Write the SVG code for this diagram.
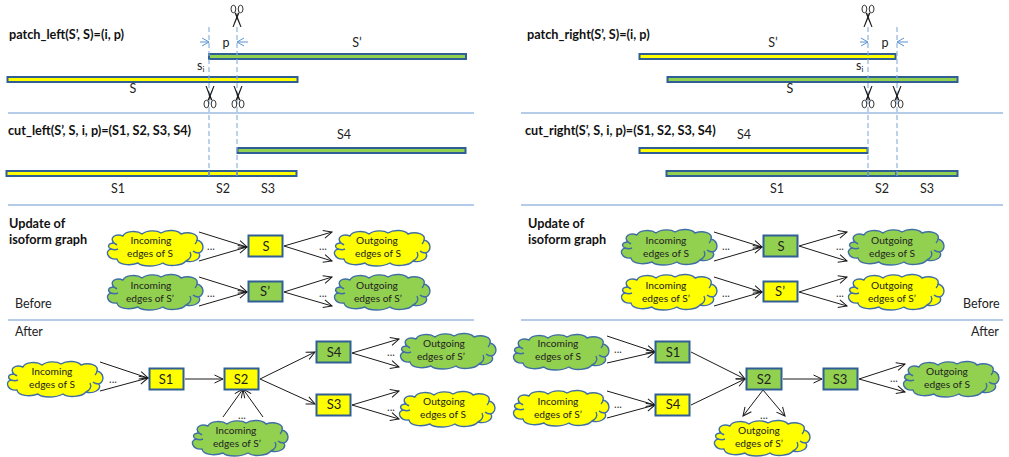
<svg xmlns="http://www.w3.org/2000/svg" xmlns:xlink="http://www.w3.org/1999/xlink" width="1009" height="457" viewBox="0 0 1009 457">
<style>
text{font-family:"Lato","Open Sans","Liberation Sans",sans-serif;fill:#222;font-size:12.500px}
.h{font-weight:700;font-size:12.700px;fill:#111}
.m{text-anchor:middle}
.c{font-size:10.200px;text-anchor:middle}
.n{font-size:13px;text-anchor:middle}
.d{font-size:11px;text-anchor:middle;fill:#333}
.y{fill:#ffff00}
.g{fill:#92d050}
.box{stroke:#2f5f94;stroke-width:2}
.bar{stroke:#2f5f94;stroke-width:2}
.cl{stroke:#3f6ea5;stroke-width:1.4;stroke-linejoin:round}
.sep{stroke:#9dbbe0;stroke-width:1.4}
.dash{stroke:#86aedd;stroke-width:1.1;stroke-dasharray:5 3;fill:none}
.e{stroke:#1a1a1a;stroke-width:1;fill:none;marker-end:url(#open)}
.dim{stroke:#5b93d3;stroke-width:1;fill:none;marker-end:url(#openBlue)}
.tick{stroke:#2f5f94;stroke-width:1.4}
</style>
<defs>
<marker id="open" markerUnits="userSpaceOnUse" markerWidth="12" markerHeight="12" refX="9.500" refY="5" orient="auto"><path d="M1,1 L9.500,5 L1,9" fill="none" stroke="#1a1a1a" stroke-width="1"/></marker>
<marker id="openBlue" markerUnits="userSpaceOnUse" markerWidth="12" markerHeight="12" refX="9" refY="5" orient="auto"><path d="M2,1 L9,5 L2,9" fill="none" stroke="#5b93d3" stroke-width="1"/></marker>
<g id="cloud">
<path d="M8,13 C3,8 9,3 17,6 C19,1 31,0 36,4 C41,0 51,0 55,3 C61,-1 72,0 75,4 C83,1 93,4 91,10 C98,12 99,20 93,23 C96,29 87,33 80,31 C76,36 62,37 57,33 C50,37 36,37 32,33 C24,36 12,35 11,29 C2,30 -2,21 5,19 C1,17 2,13 8,13 Z"/>
<path d="M80,31 C84,29 86,26 84,22 M93,23 C90,23 88,22 87,21 M5,19 C8,20 10,20 12,19 M8,13 C9,14 10,14 11,15 M91,10 C91,12 90,13 89,14" fill="none"/>
</g>
<g id="scissors" fill="#1a1a1a">
<path d="M-4.500,-11 L-3.400,-11 L2.400,3 L1,3.500 Z"/>
<path d="M4.500,-11 L3.400,-11 L-2.400,3 L-1,3.500 Z"/>
<ellipse cx="-3.600" cy="7" rx="2.400" ry="3.800" fill="none" stroke="#333" stroke-width="1"/>
<ellipse cx="3.600" cy="7" rx="2.400" ry="3.800" fill="none" stroke="#333" stroke-width="1"/>
</g>
</defs>
<rect width="1009" height="457" fill="#fff"/>

<!-- section rules -->
<g id="rules">
<line class="sep" x1="8" y1="113" x2="474" y2="113"/>
<line class="sep" x1="8" y1="205" x2="474" y2="205"/>
<line class="sep" x1="8" y1="320" x2="474" y2="320"/>
<line class="sep" x1="521" y1="113" x2="1003" y2="113"/>
<line class="sep" x1="521" y1="205" x2="1003" y2="205"/>
<line class="sep" x1="521" y1="320" x2="1003" y2="320"/>
</g>

<!-- left: sequence bars -->
<g id="bar-left-sprime"><rect class="bar g" x="209" y="54" width="257" height="5"/></g>
<g id="bar-left-s"><rect class="bar y" x="7.500" y="77" width="290" height="5"/></g>
<g id="bar-left-s4"><rect class="bar g" x="237.500" y="148" width="228" height="5"/></g>
<g id="bar-left-s123"><rect class="bar y" x="6.500" y="171" width="290" height="5"/>
<line class="tick" x1="209" y1="170" x2="209" y2="177"/><line class="tick" x1="237" y1="170" x2="237" y2="177"/></g>

<!-- right: sequence bars -->
<g id="bar-right-sprime"><rect class="bar y" x="639.500" y="54" width="256" height="5"/></g>
<g id="bar-right-s"><rect class="bar g" x="667.500" y="77" width="290" height="5"/></g>
<g id="bar-right-s4"><rect class="bar y" x="639.500" y="148" width="228" height="5"/></g>
<g id="bar-right-s123"><rect class="bar g" x="666.500" y="171" width="291" height="5"/>
<line class="tick" x1="868" y1="170" x2="868" y2="177"/><line class="tick" x1="896" y1="170" x2="896" y2="177"/></g>

<!-- cut guides, dimension arrows, scissors -->
<g id="guides">
<line class="dash" x1="209" y1="27" x2="209" y2="179"/>
<line class="dash" x1="237" y1="27" x2="237" y2="179"/>
<line class="dash" x1="868" y1="27" x2="868" y2="179"/>
<line class="dash" x1="897" y1="27" x2="897" y2="179"/>
<path class="dim" d="M200,42 H209"/><path class="dim" d="M248,42 H237"/>
<path class="dim" d="M860,42 H868"/><path class="dim" d="M908,42 H897"/>
<use xlink:href="#scissors" href="#scissors" transform="translate(237,16) scale(1,-1)"/>
<use xlink:href="#scissors" href="#scissors" transform="translate(210,97)"/>
<use xlink:href="#scissors" href="#scissors" transform="translate(238,97)"/>
<use xlink:href="#scissors" href="#scissors" transform="translate(868,16) scale(1,-1)"/>
<use xlink:href="#scissors" href="#scissors" transform="translate(868,97)"/>
<use xlink:href="#scissors" href="#scissors" transform="translate(897,97)"/>
</g>

<!-- panel headings and sequence labels -->
<g id="labels">
<text class="h" x="9" y="39">patch_left(S’, S)=(i, p)</text>
<text class="h" x="8" y="135">cut_left(S’, S, i, p)=(S1, S2, S3, S4)</text>
<text class="h" x="527" y="39">patch_right(S’, S)=(i, p)</text>
<text class="h" x="525" y="135">cut_right(S’, S, i, p)=(S1, S2, S3, S4)</text>
<text class="h" x="9" y="228">Update of</text><text class="h" x="9" y="244">isoform graph</text>
<text class="h" x="528" y="228">Update of</text><text class="h" x="528" y="244">isoform graph</text>
<text x="15" y="308">Before</text><text x="15" y="336">After</text>
<text x="963" y="308">Before</text><text x="971" y="336">After</text>
<text class="m" x="226" y="47">p</text><text class="m" x="357" y="47">S’</text>
<text x="197" y="70">s<tspan font-size="8" dy="2">i</tspan></text>
<text class="m" x="133" y="93">S</text><text class="m" x="344" y="139">S4</text>
<text class="m" x="118" y="193">S1</text><text class="m" x="223" y="193">S2</text><text class="m" x="268" y="193">S3</text>
<text class="m" x="885" y="47">p</text><text class="m" x="773" y="47">S’</text>
<text x="856" y="70">s<tspan font-size="8" dy="2">i</tspan></text>
<text class="m" x="790" y="93">S</text><text class="m" x="744" y="139">S4</text>
<text class="m" x="777" y="193">S1</text><text class="m" x="882" y="193">S2</text><text class="m" x="927" y="193">S3</text>
</g>

<!-- graph edges -->
<g id="connectors">
<path class="e" d="M199,232 L247,247"/><path class="e" d="M199,261 L247,247"/>
<path class="e" d="M284,246 L332,232"/><path class="e" d="M284,246 L332,261"/>
<path class="e" d="M199,277 L247,292"/><path class="e" d="M199,306 L247,292"/>
<path class="e" d="M284,292 L332,277"/><path class="e" d="M284,292 L332,306"/>
<path class="e" d="M100,362 L148,378"/><path class="e" d="M100,391 L148,378"/>
<path class="e" d="M185,379 L223,379"/>
<path class="e" d="M260,379 L315,352"/><path class="e" d="M260,379 L315,404"/>
<path class="e" d="M352,353 L399,339"/><path class="e" d="M352,353 L399,367"/>
<path class="e" d="M352,405 L399,391"/><path class="e" d="M352,405 L399,419"/>
<path class="e" d="M223,417 L243,389"/><path class="e" d="M263,417 L243,389"/>
<path class="e" d="M714,232 L762,247"/><path class="e" d="M714,261 L762,247"/>
<path class="e" d="M799,246 L847,232"/><path class="e" d="M799,246 L847,261"/>
<path class="e" d="M714,277 L762,292"/><path class="e" d="M714,306 L762,292"/>
<path class="e" d="M799,292 L847,277"/><path class="e" d="M799,292 L847,306"/>
<path class="e" d="M607,336 L655,352"/><path class="e" d="M607,363 L655,352"/>
<path class="e" d="M607,391 L655,405"/><path class="e" d="M607,418 L655,405"/>
<path class="e" d="M691,352 L745,379"/><path class="e" d="M691,405 L745,379"/>
<path class="e" d="M783,379 L822,379"/>
<path class="e" d="M859,379 L905,364"/><path class="e" d="M859,379 L905,392"/>
<path class="e" d="M763,390 L743,416"/><path class="e" d="M763,390 L785,416"/>
</g>
<g id="ellipses">
<text class="d" x="211" y="250">...</text><text class="d" x="323" y="250">...</text>
<text class="d" x="211" y="297">...</text><text class="d" x="323" y="297">...</text>
<text class="d" x="113" y="383">...</text><text class="d" x="391" y="356">...</text>
<text class="d" x="391" y="411">...</text><text class="d" x="242" y="419">...</text>
<text class="d" x="726" y="250">...</text><text class="d" x="840" y="250">...</text>
<text class="d" x="726" y="297">...</text><text class="d" x="840" y="297">...</text>
<text class="d" x="618" y="353">...</text><text class="d" x="618" y="408">...</text>
<text class="d" x="894" y="382">...</text><text class="d" x="764" y="419">...</text>
</g>

<!-- left: before -->
<g id="l-in-s"><use href="#cloud" class="y cl" x="106" y="230"/><text class="c" x="151" y="244">Incoming</text><text class="c" x="150" y="257">edges of S</text></g>
<g id="l-node-s"><rect class="box y" x="248.500" y="235.500" width="34" height="21"/><text class="n" x="266" y="251">S</text></g>
<g id="l-out-s"><use href="#cloud" class="y cl" x="333" y="230"/><text class="c" x="377" y="244">Outgoing</text><text class="c" x="378" y="257">edges of S</text></g>
<g id="l-in-sp"><use href="#cloud" class="g cl" x="106" y="274"/><text class="c" x="151" y="289">Incoming</text><text class="c" x="150" y="302">edges of S’</text></g>
<g id="l-node-sp"><rect class="box g" x="248.500" y="281.500" width="34" height="20"/><text class="n" x="265" y="296">S’</text></g>
<g id="l-out-sp"><use href="#cloud" class="g cl" x="333" y="274"/><text class="c" x="377" y="289">Outgoing</text><text class="c" x="378" y="302">edges of S’</text></g>

<!-- left: after -->
<g id="la-in-s"><use href="#cloud" class="y cl" x="6" y="361"/><text class="c" x="52" y="375">Incoming</text><text class="c" x="52" y="388">edges of S</text></g>
<g id="la-s1"><rect class="box y" x="149.500" y="368.500" width="34" height="21"/><text class="n" x="166" y="384">S1</text></g>
<g id="la-s2"><rect class="box y" x="224.500" y="368.500" width="34" height="21"/><text class="n" x="241" y="384">S2</text></g>
<g id="la-s4"><rect class="box g" x="316.500" y="341.500" width="34" height="21"/><text class="n" x="334" y="357">S4</text></g>
<g id="la-s3"><rect class="box y" x="316.500" y="394.500" width="34" height="21"/><text class="n" x="334" y="409">S3</text></g>
<g id="la-out-sp"><use href="#cloud" class="g cl" x="399" y="333"/><text class="c" x="444" y="347">Outgoing</text><text class="c" x="441" y="360">edges of S’</text></g>
<g id="la-out-s"><use href="#cloud" class="y cl" x="398" y="391"/><text class="c" x="444" y="405">Outgoing</text><text class="c" x="443" y="418">edges of S</text></g>
<g id="la-in-sp"><use href="#cloud" class="g cl" x="191" y="420"/><text class="c" x="236" y="434">Incoming</text><text class="c" x="237" y="447">edges of S’</text></g>

<!-- right: before -->
<g id="r-in-s"><use href="#cloud" class="g cl" x="620" y="229"/><text class="c" x="666" y="244">Incoming</text><text class="c" x="666" y="257">edges of S</text></g>
<g id="r-node-s"><rect class="box g" x="763.500" y="235.500" width="34" height="21"/><text class="n" x="781" y="251">S</text></g>
<g id="r-out-s"><use href="#cloud" class="g cl" x="847" y="229"/><text class="c" x="892" y="244">Outgoing</text><text class="c" x="892" y="257">edges of S</text></g>
<g id="r-in-sp"><use href="#cloud" class="y cl" x="620" y="274"/><text class="c" x="666" y="289">Incoming</text><text class="c" x="666" y="302">edges of S’</text></g>
<g id="r-node-sp"><rect class="box y" x="763.500" y="281.500" width="34" height="20"/><text class="n" x="780" y="296">S’</text></g>
<g id="r-out-sp"><use href="#cloud" class="y cl" x="847" y="274"/><text class="c" x="892" y="289">Outgoing</text><text class="c" x="892" y="302">edges of S’</text></g>

<!-- right: after -->
<g id="ra-in-s"><use href="#cloud" class="g cl" x="512" y="334"/><text class="c" x="558" y="347">Incoming</text><text class="c" x="558" y="360">edges of S</text></g>
<g id="ra-in-sp"><use href="#cloud" class="y cl" x="512" y="390"/><text class="c" x="558" y="405">Incoming</text><text class="c" x="558" y="418">edges of S’</text></g>
<g id="ra-s1"><rect class="box g" x="655.500" y="341.500" width="34" height="21"/><text class="n" x="673" y="357">S1</text></g>
<g id="ra-s4"><rect class="box y" x="655.500" y="394.500" width="34" height="21"/><text class="n" x="673" y="409">S4</text></g>
<g id="ra-s2"><rect class="box g" x="746.500" y="368.500" width="35" height="21"/><text class="n" x="764" y="384">S2</text></g>
<g id="ra-s3"><rect class="box g" x="823.500" y="368.500" width="34" height="21"/><text class="n" x="840" y="384">S3</text></g>
<g id="ra-out-s"><use href="#cloud" class="g cl" x="902" y="361"/><text class="c" x="947" y="375">Outgoing</text><text class="c" x="947" y="388">edges of S</text></g>
<g id="ra-out-sp"><use href="#cloud" class="y cl" x="713" y="420"/><text class="c" x="759" y="434">Outgoing</text><text class="c" x="759" y="447">edges of S’</text></g>
</svg>
